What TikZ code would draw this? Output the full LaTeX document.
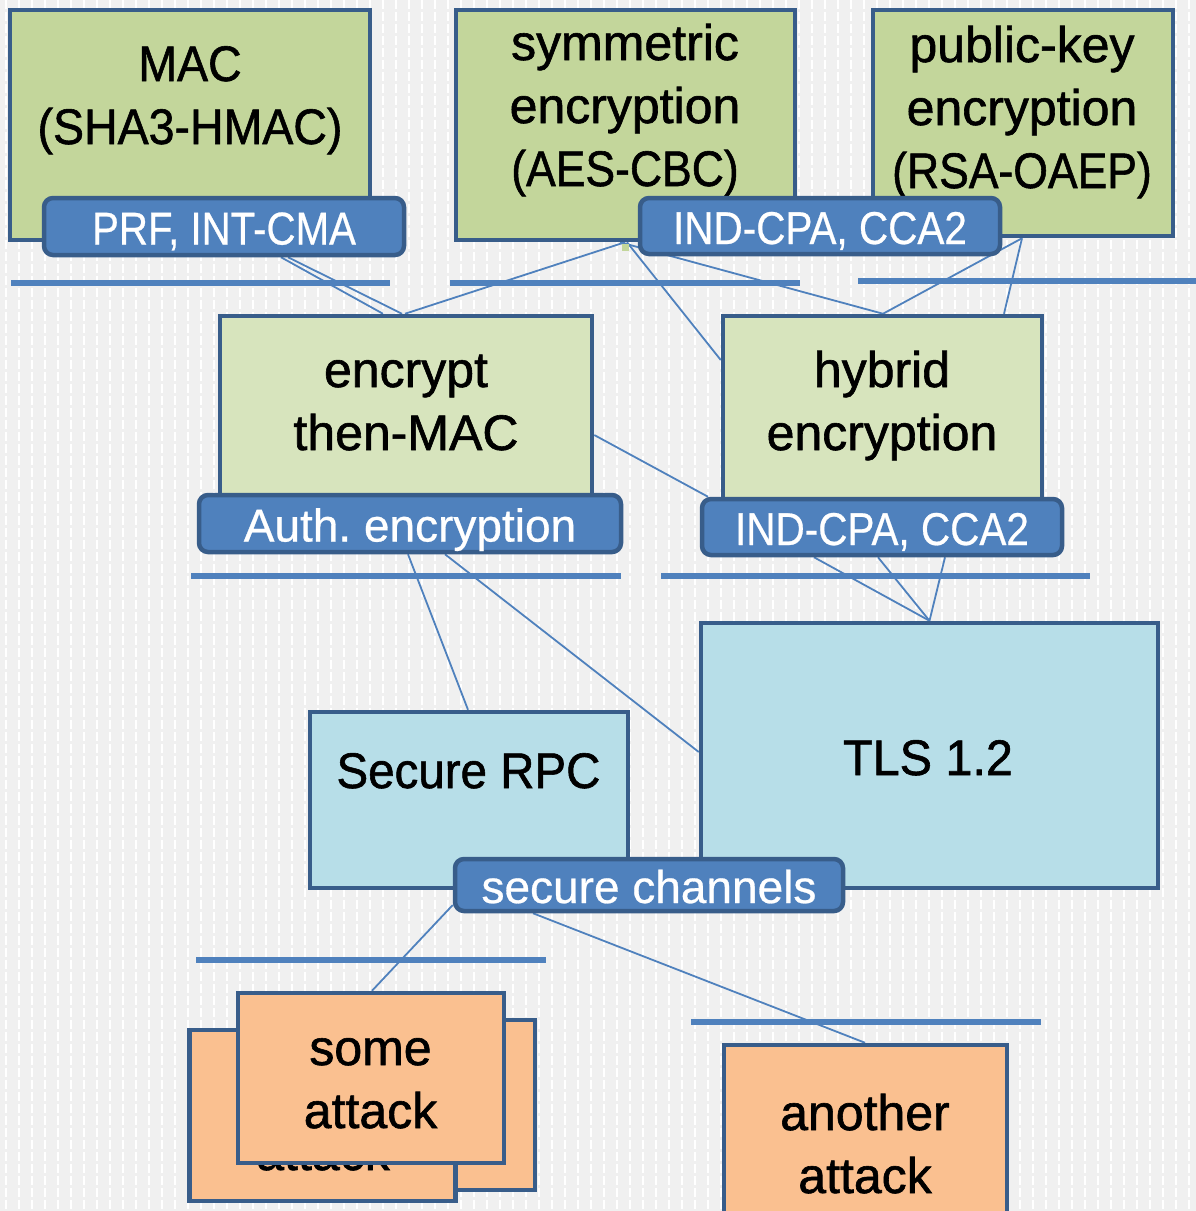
\documentclass[tikz,border=0pt]{standalone}
\usepackage{fontspec}
\usepackage{graphicx}
\setmainfont[FakeBold=1.2]{Liberation Sans}
\newfontfamily\tagfont[FakeBold=0.6]{Liberation Sans}
\usetikzlibrary{calc}
\frenchspacing

\definecolor{paper}{HTML}{F0F0F0}
\definecolor{edge}{HTML}{385D8A}
\definecolor{tagblue}{HTML}{4F81BD}
\definecolor{primgreen}{HTML}{C3D69B}
\definecolor{consgreen}{HTML}{D7E4BD}
\definecolor{protocyan}{HTML}{B7DEE8}
\definecolor{attackorange}{HTML}{FAC090}

% horizontally condensed text for capital-heavy lines
\newcommand\squeeze[2][0.9]{\scalebox{#1}[1]{#2}}

\pgfdeclarelayer{paperlayer}
\pgfdeclarelayer{wirelayer}
\pgfsetlayers{paperlayer,wirelayer,main}

\tikzset{
  panel/.style={draw=edge, line width=4.5pt, rectangle, inner sep=0pt},
  prim/.style={panel, fill=primgreen},
  cons/.style={panel, fill=consgreen},
  proto/.style={panel, fill=protocyan},
  attackbox/.style={panel, fill=attackorange},
  tag/.style={draw=edge, line width=4.5pt, fill=tagblue, rounded corners=9pt,
    text=white, inner sep=0pt, text height=36pt, text depth=0pt,
    font=\tagfont\fontsize{46}{52}\selectfont},
  % anchored at the baseline of the last line
  words/.style={font=\fontsize{50}{63}\selectfont, align=center,
    anchor=base, inner sep=0pt},
  rail/.style={draw=tagblue, line width=6pt},
  wire/.style={draw=tagblue, line width=1.8pt},
}

\begin{document}
\begin{tikzpicture}[x=1pt, y=-1pt]
\useasboundingbox (0,0) rectangle (1196,1211);
\clip (0,0) rectangle (1196,1211);

% paper with faint vertical stitching
\begin{pgfonlayer}{paperlayer}
  \fill[paper] (0,0) rectangle (1196,1211);
  \foreach \x in {6,19,...,1196}
    \draw[white, line width=2.4pt, dash pattern=on 9pt off 3pt] (\x,0) -- (\x,1211);
\end{pgfonlayer}

% ---- primitives
\node[prim, minimum width=360pt, minimum height=230pt] (mac) at (190,125) {};
\node[words] (mac-t) at (190,144) {\squeeze[0.93]{MAC}\\\squeeze[0.93]{(SHA3-HMAC)}};
\node[prim, minimum width=339pt, minimum height=230pt] (sym) at (625.5,125) {};
\node[words] (sym-t) at (625,186) {symmetric\\encryption\\\squeeze[0.89]{(AES-CBC)}};
\node[prim, minimum width=300pt, minimum height=226pt] (pub) at (1023,123) {};
\node[words] (pub-t) at (1022,188) {public-key\\encryption\\\squeeze[0.89]{(RSA-OAEP)}};
\fill[primgreen] (622,244) rectangle (629,251);

\node[tag, minimum width=360pt, minimum height=57pt] (prf) at (224,226.5) {\squeeze[0.875]{PRF, INT-CMA}};
\node[tag, minimum width=360pt, minimum height=56pt] (ind1) at (820,226) {\squeeze[0.88]{IND-CPA, CCA2}};

% ---- constructions
\node[cons, minimum width=372pt, minimum height=200pt] (enc) at (406,416) {};
\node[words] (enc-t) at (406,450) {encrypt\\then-MAC};
\node[cons, minimum width=319pt, minimum height=200pt] (hyb) at (882.5,416) {};
\node[words] (hyb-t) at (882,450) {hybrid\\encryption};

\node[tag, minimum width=422pt, minimum height=57pt] (auth) at (410,523.5) {Auth. encryption};
\node[tag, minimum width=360pt, minimum height=56pt] (ind2) at (882,527) {\squeeze[0.88]{IND-CPA, CCA2}};

% ---- protocols
\node[proto, minimum width=457pt, minimum height=265pt] (tls) at (929.5,755.5) {};
\node[words] (tls-t) at (928,775) {\squeeze[0.97]{TLS 1.2}};
\node[proto, minimum width=318pt, minimum height=176pt] (rpc) at (469,800) {};
\node[words] (rpc-t) at (468.5,788) {\squeeze[0.95]{Secure RPC}};
\node[tag, minimum width=388pt, minimum height=52pt] (sec) at (649,885) {secure channels};

% ---- attacks
\node[attackbox, minimum width=266pt, minimum height=170pt] (atk-c) at (402,1105) {};
\node[attackbox, minimum width=266pt, minimum height=171pt] (atk-b) at (322.5,1115.5) {};
\node[words] (atk-b-t) at (323,1170) {attack};
\node[attackbox, minimum width=266pt, minimum height=170pt] (some) at (371,1078) {};
\node[words] (some-t) at (370.5,1128) {some\\attack};
\node[attackbox, minimum width=283pt, minimum height=200pt] (another) at (865.5,1145) {};
\node[words] (another-t) at (865,1193) {another\\attack};

% ---- rails and connectors
\begin{pgfonlayer}{wirelayer}
  \draw[rail] (11,283) -- (390,283);
  \draw[rail] (450,283) -- (800,283);
  \draw[rail] (858,281) -- (1196,281);
  \draw[rail] (191,576) -- (621,576);
  \draw[rail] (661,576) -- (1090,576);
  \draw[rail] (196,960) -- (546,960);
  \draw[rail] (691,1022) -- (1041,1022);

  \draw[wire] (281,0 |- prf.south) -- (383,0 |- enc.north);
  \draw[wire] (288,0 |- prf.south) -- (402,0 |- enc.north);
  \draw[wire] (625,0 |- sym.south) -- (405,0 |- enc.north);
  \draw[wire] (627,0 |- sym.south) -- (hyb.west |- 0,360);
  \draw[wire] (620,0 |- sym.south) -- (883,0 |- hyb.north);
  \draw[wire] (1022,0 |- pub.south) -- (883,0 |- hyb.north);
  \draw[wire] (1022,0 |- pub.south) -- (1004,0 |- hyb.north);
  \draw[wire] (enc.east |- 0,435) -- (708,0 |- ind2.north);
  \draw[wire] (408,0 |- auth.south) -- (468,0 |- rpc.north);
  \draw[wire] (445,0 |- auth.south) -- (tls.west |- 0,752);
  \draw[wire] (814,0 |- ind2.south) -- (tls.north);
  \draw[wire] (878,0 |- ind2.south) -- (tls.north);
  \draw[wire] (945,0 |- ind2.south) -- (tls.north);
  \draw[wire] (sec.west |- 0,905) -- (372,0 |- some.north);
  \draw[wire] (533,0 |- sec.south) -- (865,0 |- another.north);
\end{pgfonlayer}
\end{tikzpicture}
\end{document}
